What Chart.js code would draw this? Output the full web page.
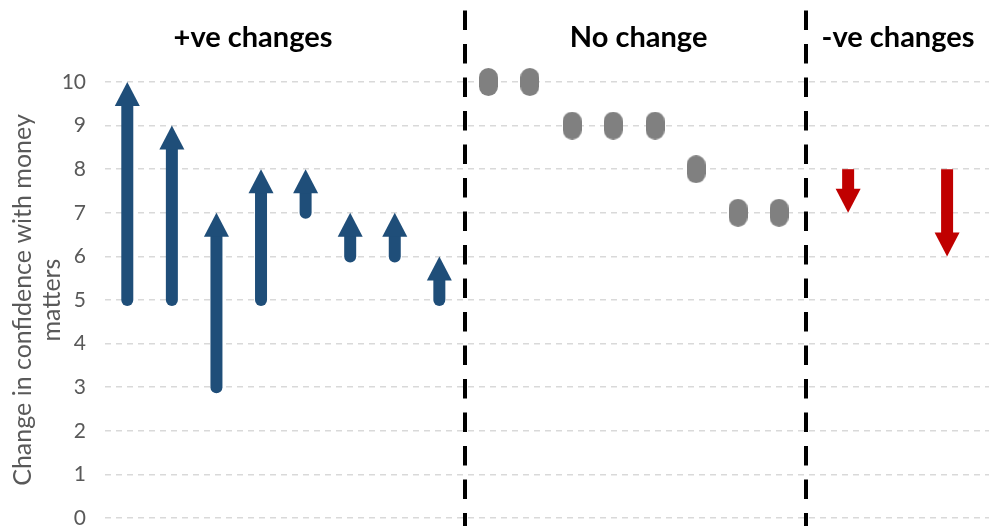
<!DOCTYPE html>
<html>
<head>
<meta charset="utf-8">
<script src="https://cdn.jsdelivr.net/npm/chart.js@4.4.1/dist/chart.umd.min.js"></script>
<style>
  html, body { margin: 0; padding: 0; background: #fff; overflow: hidden; }
  #wrap { width: 989px; height: 526px; }
</style>
</head>
<body>
<div id="wrap"><canvas id="confChart"></canvas></div>
<script>
// +ve changes: confidence before -> after
const upX = [0.5, 1.5, 2.5, 3.5, 4.5, 5.5, 6.5, 7.5];
const upFrom = [5, 5, 3, 5, 7, 6, 6, 5];
const upTo = [10, 9, 7, 8, 8, 7, 7, 6];

// no change
const sameX = [8.6, 9.53, 10.48, 11.4, 12.34, 13.26, 14.2, 15.12];
const sameVal = [10, 10, 9, 9, 9, 8, 7, 7];

// -ve changes
const downX = [16.67, 18.89];
const downFrom = [8, 8];
const downTo = [7, 6];

const dividerX = [8.08, 15.73];
const groupLabels = ['+ve changes', 'No change', '-ve changes'];
const groupLabelX = [3.32, 11.97, 17.79];
const yTitle = ['Change in confidence with money', 'matters'];

const BLUE = '#1f4e79';
const RED = '#c00000';
const GREY = '#808080';
const FONT = 'Lato, "Open Sans", sans-serif';

function pillImage(w, h, color) {
  const c = document.createElement('canvas');
  c.width = w; c.height = h;
  const g = c.getContext('2d');
  const r = w / 2;
  g.fillStyle = color;
  g.beginPath();
  g.arc(r, r, r, Math.PI, 0);
  g.lineTo(w, h - r);
  g.arc(r, h - r, r, 0, Math.PI);
  g.closePath();
  g.fill();
  return c;
}

function arrowSet(xs, from, to, color) {
  return xs.map((x, i) => ({
    type: 'line',
    data: [{x: x, y: from[i]}, {x: x, y: to[i]}],
    showLine: false,
    pointRadius: 0,
    arrow: color,
    clip: false
  }));
}

const datasets = [
  ...arrowSet(upX, upFrom, upTo, BLUE),
  ...arrowSet(downX, downFrom, downTo, RED),
  {
    type: 'scatter',
    data: sameX.map((x, i) => ({x: x, y: sameVal[i]})),
    pointStyle: pillImage(19, 28, GREY),
    pointRadius: 10,
    clip: false
  }
];

const arrowPlugin = {
  id: 'arrows',
  afterDatasetsDraw(chart) {
    const ctx = chart.ctx;
    const headH = 24, headW = 25, shaftW = 12;
    chart.data.datasets.forEach((ds, i) => {
      if (!ds.arrow) return;
      const pts = chart.getDatasetMeta(i).data;
      const x = pts[0].x, y0 = pts[0].y, y1 = pts[1].y;
      const dir = y1 < y0 ? -1 : 1;
      const base = y1 - dir * headH;
      ctx.save();
      ctx.strokeStyle = ds.arrow;
      ctx.fillStyle = ds.arrow;
      ctx.lineWidth = shaftW;
      ctx.lineCap = dir < 0 ? 'round' : 'butt';
      ctx.beginPath();
      ctx.moveTo(x, y0);
      ctx.lineTo(x, base + dir);
      ctx.stroke();
      ctx.beginPath();
      ctx.moveTo(x, y1);
      ctx.lineTo(x - headW / 2, base);
      ctx.lineTo(x + headW / 2, base);
      ctx.closePath();
      ctx.fill();
      ctx.restore();
    });
  },
  afterDraw(chart) {
    const ctx = chart.ctx;
    const xs = chart.scales.x;
    ctx.save();
    ctx.strokeStyle = '#000';
    ctx.lineWidth = 4;
    ctx.setLineDash([19.5, 14]);
    dividerX.forEach(v => {
      const px = Math.round(xs.getPixelForValue(v));
      ctx.beginPath();
      ctx.moveTo(px, 10.5);
      ctx.lineTo(px, chart.height);
      ctx.stroke();
    });
    ctx.setLineDash([]);
    ctx.fillStyle = '#000';
    ctx.font = 'bold 29px ' + FONT;
    ctx.textAlign = 'center';
    ctx.textBaseline = 'alphabetic';
    groupLabels.forEach((t, i) => {
      ctx.fillText(t, xs.getPixelForValue(groupLabelX[i]), 47);
    });
    ctx.restore();
  }
};

new Chart(document.getElementById('confChart'), {
  type: 'scatter',
  data: { datasets: datasets },
  options: {
    responsive: true,
    maintainAspectRatio: false,
    animation: false,
    events: [],
    layout: { autoPadding: false, padding: { top: 82, bottom: 8, right: 0, left: 0 } },
    plugins: { legend: { display: false }, tooltip: { enabled: false } },
    scales: {
      x: { type: 'linear', display: false, min: 0, max: 19.83 },
      y: {
        min: 0,
        max: 10,
        afterFit(scale) { scale.width = 105; },
        ticks: { stepSize: 1, color: '#595959', padding: 0, font: { family: FONT, size: 21, lineHeight: 0.7 } },
        grid: { color: '#d9d9d9', lineWidth: 1.5, drawTicks: true, tickLength: 19, tickColor: 'rgba(0,0,0,0)' },
        border: { display: false, dash: [6, 5] },
        title: {
          display: true,
          text: yTitle,
          color: '#595959',
          font: { family: FONT, size: 25, lineHeight: 1.15 },
          padding: { top: 9, bottom: 0 }
        }
      }
    }
  },
  plugins: [arrowPlugin]
});
</script>
</body>
</html>
